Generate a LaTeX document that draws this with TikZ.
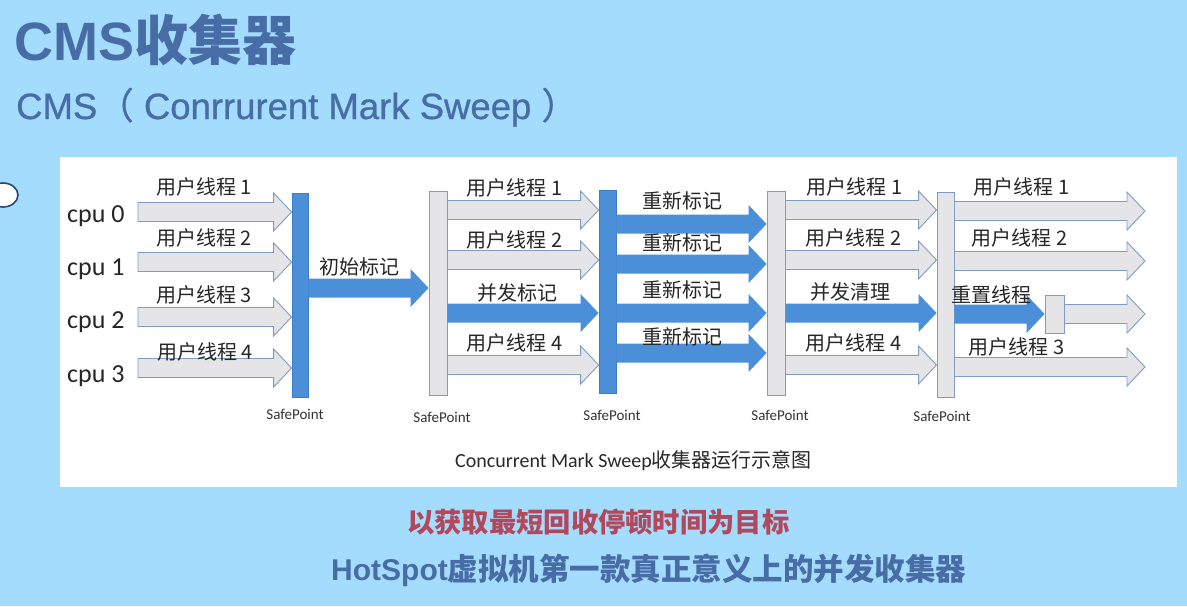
\documentclass[tikz,border=0pt]{standalone}
\usepackage{fontspec}
\setmainfont{Liberation Sans}
\newfontfamily\cjk{Noto Sans CJK SC}
\newfontfamily\calfont{Carlito}
\newfontfamily\subsans[FakeBold=0.8]{Liberation Sans}
\newfontfamily\subcjk[FakeBold=0.8]{Noto Sans CJK SC}
\usetikzlibrary{calc}

\definecolor{bgblue}{RGB}{164,220,253}
\definecolor{headblue}{RGB}{72,108,166}
\definecolor{redtxt}{RGB}{178,72,92}
\definecolor{gcblue}{RGB}{74,143,215}
\definecolor{gcedge}{RGB}{62,124,196}
\definecolor{grayfill}{RGB}{229,229,231}
\definecolor{grayedge}{RGB}{128,156,196}
\definecolor{ringedge}{RGB}{44,70,120}
\definecolor{captxt}{RGB}{40,40,40}

% block arrow: style, start point, tip point, centre line (y grows downwards)
\newcommand\blockarr[4]{%
  \path[#1] let \p1=(#2), \p2=(#3) in
    (\x1,{-(#4-9.5)*1pt}) -- (\x2-18pt,{-(#4-9.5)*1pt}) -- (\x2-18pt,{-(#4-19)*1pt})
    -- (\x2,{-(#4)*1pt}) -- (\x2-18pt,{-(#4+19)*1pt}) -- (\x2-18pt,{-(#4+9.5)*1pt})
    -- (\x1,{-(#4+9.5)*1pt}) -- cycle;}

\tikzset{
  gcbar/.style={draw=gcedge, fill=gcblue, line width=0.8, minimum width=16, minimum height=204, inner sep=0},
  runbar/.style={draw=grayedge, fill=grayfill, line width=0.9, minimum width=17, minimum height=204, inner sep=0},
  grayarr/.style={draw=grayedge, fill=grayfill, line width=0.9, line join=miter},
  bluearr/.style={fill=gcblue},
  lab/.style={font={\cjk\fontsize{20}{24}\selectfont}, inner sep=0, text=black!85},
  cpulab/.style={font={\calfont\fontsize{26}{30}\selectfont}, inner sep=0, anchor=base west, text=black!85},
  sptext/.style={font={\calfont\fontsize{15}{18}\selectfont}, inner sep=0, text=black!80},
}

\begin{document}
\begin{tikzpicture}[x=1pt, y=-1pt]
  \fill[bgblue] (0,0) rectangle (1187,606);
  \useasboundingbox (0,0) rectangle (1187,606);

  % headings
  \node[anchor=base west, inner sep=0, text=headblue] (title) at (14,60)
    {\bfseries\fontsize{54}{60}\selectfont CMS{\cjk 收集器}};
  \node[anchor=base west, inner sep=0, text=headblue] (subtitle) at (16,119)
    {\subsans\fontsize{36.5}{40}\selectfont CMS{\subcjk （} Conrrurent Mark Sweep {\subcjk ）}};

  % side marker
  \draw[fill=white, draw=ringedge, line width=1.6] (3,195) ellipse [x radius=15, y radius=12];

  % white panel
  \fill[white] (60,157) rectangle (1177,487);

  % cpu rows
  \node[cpulab] (cpu0) at (67,222) {cpu 0};
  \node[cpulab] (cpu1) at (67,275) {cpu 1};
  \node[cpulab] (cpu2) at (67,328) {cpu 2};
  \node[cpulab] (cpu3) at (67,382) {cpu 3};

  % safepoint bars
  \node[gcbar] (sp1) at (300,295) {};
  \node[runbar, minimum width=18] (sp2) at (438,293) {};
  \node[gcbar, minimum width=17, minimum height=203] (sp3) at (607.5,291.5) {};
  \node[runbar, minimum width=18] (sp4) at (776,293) {};
  \node[runbar, minimum height=205] (sp5) at (945.5,294.5) {};
  \node[runbar, minimum width=19, minimum height=38] (reset) at (1054.5,314) {};

  \coordinate (lanestart) at (138,0);
  \coordinate (laneend) at (1145,0);

  % user threads up to the first safepoint
  \blockarr{grayarr}{lanestart}{sp1.west}{212}
  \blockarr{grayarr}{lanestart}{sp1.west}{262}
  \blockarr{grayarr}{lanestart}{sp1.west}{317}
  \blockarr{grayarr}{lanestart}{sp1.west}{368}

  % initial mark
  \blockarr{bluearr}{sp1.east}{sp2.west}{288}

  % concurrent mark phase
  \blockarr{grayarr}{sp2.east}{sp3.west}{210}
  \blockarr{grayarr}{sp2.east}{sp3.west}{260}
  \blockarr{bluearr}{sp2.east}{sp3.west}{313}
  \blockarr{grayarr}{sp2.east}{sp3.west}{365}

  % remark phase
  \blockarr{bluearr}{sp3.east}{sp4.west}{224}
  \blockarr{bluearr}{sp3.east}{sp4.west}{264}
  \blockarr{bluearr}{sp3.east}{sp4.west}{313}
  \blockarr{bluearr}{sp3.east}{sp4.west}{353}

  % concurrent sweep phase
  \blockarr{grayarr}{sp4.east}{sp5.west}{210}
  \blockarr{grayarr}{sp4.east}{sp5.west}{260}
  \blockarr{bluearr}{sp4.east}{sp5.west}{313}
  \blockarr{grayarr}{sp4.east}{sp5.west}{365}

  % reset and resume
  \blockarr{grayarr}{sp5.east}{laneend}{211}
  \blockarr{grayarr}{sp5.east}{laneend}{261}
  \blockarr{bluearr}{sp5.east}{reset.west}{314}
  \blockarr{grayarr}{reset.east}{laneend}{314}
  \blockarr{grayarr}{sp5.east}{laneend}{367}

  % safepoint captions
  \node[sptext] (sp1t) at (295,414) {SafePoint};
  \node[sptext] (sp2t) at (442,417) {SafePoint};
  \node[sptext] (sp3t) at (612,415) {SafePoint};
  \node[sptext] (sp4t) at (780,415) {SafePoint};
  \node[sptext] (sp5t) at (942,416) {SafePoint};

  % phase labels
  \node[lab] (a1) at (204,187) {用户线程 1};
  \node[lab] (a2) at (204,238) {用户线程 2};
  \node[lab] (a3) at (204,295) {用户线程 3};
  \node[lab] (a4) at (205,352) {用户线程 4};
  \node[lab] (im) at (359,267) {初始标记};

  \node[lab] (b1) at (514.5,188) {用户线程 1};
  \node[lab] (b2) at (514.5,240) {用户线程 2};
  \node[lab] (cm) at (517.5,293) {并发标记};
  \node[lab] (b4) at (514.5,343) {用户线程 4};

  \node[lab] (r1) at (682,201) {重新标记};
  \node[lab] (r2) at (682,243) {重新标记};
  \node[lab] (r3) at (682,290) {重新标记};
  \node[lab] (r4) at (682,337) {重新标记};

  \node[lab] (c1) at (854.5,187) {用户线程 1};
  \node[lab] (c2) at (853.5,238) {用户线程 2};
  \node[lab] (cs) at (850,292) {并发清理};
  \node[lab] (c4) at (853.5,343) {用户线程 4};

  \node[lab] (d1) at (1021.5,187) {用户线程 1};
  \node[lab] (d2) at (1019.5,238) {用户线程 2};
  \node[lab] (rt) at (991,295) {重置线程};
  \node[lab] (d3) at (1016.5,347) {用户线程 3};

  % figure caption
  \node[anchor=base west, inner sep=0, text=captxt] (caption) at (455,467)
    {\calfont\fontsize{20}{24}\selectfont Concurrent Mark Sweep{\cjk\fontsize{20}{24}\selectfont 收集器运行示意图}};

  % notes below the figure
  \node[anchor=base west, inner sep=0, text=redtxt] (goal) at (407,532)
    {\cjk\bfseries\fontsize{27.3}{32}\selectfont 以获取最短回收停顿时间为目标};
  \node[anchor=base west, inner sep=0, text=headblue] (hotspot) at (331,580)
    {\bfseries\fontsize{30}{34}\selectfont HotSpot{\cjk\fontsize{30.5}{34}\selectfont 虚拟机第一款真正意义上的并发收集器}};
\end{tikzpicture}
\end{document}
